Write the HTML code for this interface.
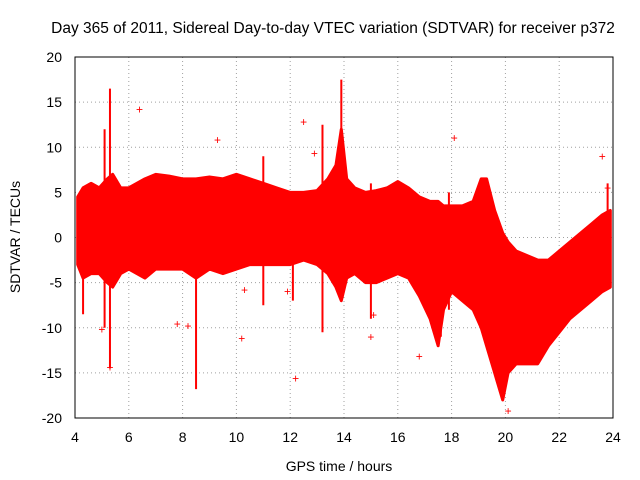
<!DOCTYPE html>
<html><head><meta charset="utf-8"><style>
body{margin:0;background:#fff}
svg{display:block;font-family:"Liberation Sans",sans-serif}
</style></head><body>
<svg id="c" width="640" height="480">
<text x="333" y="33" font-size="15.5" text-anchor="middle">Day 365 of 2011, Sidereal Day-to-day VTEC variation (SDTVAR) for receiver p372</text>
<text x="339" y="471" font-size="14" text-anchor="middle">GPS time / hours</text>
<text transform="translate(20,237) rotate(-90)" font-size="14" text-anchor="middle">SDTVAR / TECUs</text>
</svg>
<script>
const xTicks=[4,6,8,10,12,14,16,18,20,22,24];
const yTicks=[20,15,10,5,0,-5,-10,-15,-20];
const bandTimes=[4.1,4.3,4.6,4.9,5.2,5.4,5.7,6.0,6.3,6.6,7.0,7.5,8.0,8.5,9.0,9.5,10.0,10.5,11,11.5,12,12.5,13,13.4,13.7,13.9,14.1,14.4,14.8,15.2,15.6,16,16.4,16.8,17.2,17.5,17.7,18,18.4,18.8,19.1,19.3,19.6,19.9,20.1,20.4,20.8,21.2,21.6,22,22.4,22.8,23.2,23.6,23.9];
const bandUpper=[4.5,5.5,6,5.5,6.5,7,5.5,5.5,6,6.5,7,6.8,6.5,6.5,6.7,6.5,7,6.5,6,5.5,5,5,5.2,6.5,8,12,6.5,5.5,5,5.2,5.5,6.2,5.5,4.5,4,4,3.5,3.5,3.5,4,6.5,6.5,3,0.5,-0.5,-1.5,-2,-2.5,-2.5,-1.5,-0.5,0.5,1.5,2.5,3];
const bandLower=[-3,-4.5,-4,-4,-5,-5.5,-4,-3.5,-4,-4.5,-3.5,-3.5,-3.5,-4.5,-3.5,-4,-3.5,-3,-3,-3,-3,-2.5,-3,-4,-5.5,-7,-4.5,-4,-5,-5,-4.5,-4,-4.5,-6.5,-9,-12,-8,-6,-7,-8,-10,-12,-15,-18,-15,-14,-14,-14,-12,-10.5,-9,-8,-7,-6,-5.5];
const spikeTimes=[5.1,5.3,8.5,11,12.1,13.2,13.9,4.3,17.6,15.0,17.9,23.8];
const spikeHigh=[12,16.5,-4,9,5,12.5,17.5,5,-2,6,5,6];
const spikeLow=[-10,-14.5,-16.8,-7.5,-7,-10.5,-7,-8.5,-11,-9,-8,-3];
const outX=[6.4,9.3,12.5,7.8,8.2,10.3,10.2,11.9,12.2,15,15.1,16.8,23.6,5.3,5.0,18.1,12.9,20.1,23.8];
const outY=[14.2,10.8,12.8,-9.6,-9.8,-5.8,-11.2,-6,-15.6,-11,-8.6,-13.2,9,-14.4,-10.2,11,9.3,-19.2,5.5];
const L=75,R=613,T=57,B=418;
const sx=v=>L+(v-4)/20*(R-L), sy=v=>B-(v+20)/40*(B-T);
const svg=document.getElementById('c'),NS='http://www.w3.org/2000/svg';
function mk(t,a,p){const e=document.createElementNS(NS,t);for(const k in a)e.setAttribute(k,a[k]);(p||svg).appendChild(e);return e;}
xTicks.forEach(v=>{
 const g=mk('line',{x1:sx(v),x2:sx(v),y1:T,y2:B,stroke:'#a0a0a0','stroke-dasharray':'1,3'});
 
 
 const t=mk('text',{x:sx(v),y:B+24,'font-size':14,'text-anchor':'middle'});t.textContent=v;
 
 
});
yTicks.forEach(v=>{
 const g=mk('line',{x1:L,x2:R,y1:sy(v),y2:sy(v),stroke:'#a0a0a0','stroke-dasharray':'1,3'});
 
 
 const t=mk('text',{x:L-13,y:sy(v)+5,'font-size':14,'text-anchor':'end'});t.textContent=v;
 
 
});
let d='M'+bandTimes.map((t,i)=>sx(t)+','+sy(bandUpper[i])).join(' L');
for(let i=bandTimes.length-1;i>=0;i--)d+=' L'+sx(bandTimes[i])+','+sy(bandLower[i]);
const band=mk('path',{d:d+'Z',fill:'#ff0000',stroke:'#ff0000','stroke-width':3,'stroke-linejoin':'round'});


spikeTimes.forEach((t,i)=>{
 const s=mk('line',{x1:sx(t),x2:sx(t),y1:sy(spikeHigh[i]),y2:sy(spikeLow[i]),stroke:'#ff0000','stroke-width':2});
 
 
});
outX.forEach((x,i)=>{
 const t=mk('text',{x:sx(x),y:sy(outY[i])+4,'font-size':12,fill:'#ff0000','text-anchor':'middle'});t.textContent='+';
 
 
});
const f=mk('rect',{x:L,y:T,width:R-L,height:B-T,fill:'none',stroke:'#000'});


</script>
</body></html>
